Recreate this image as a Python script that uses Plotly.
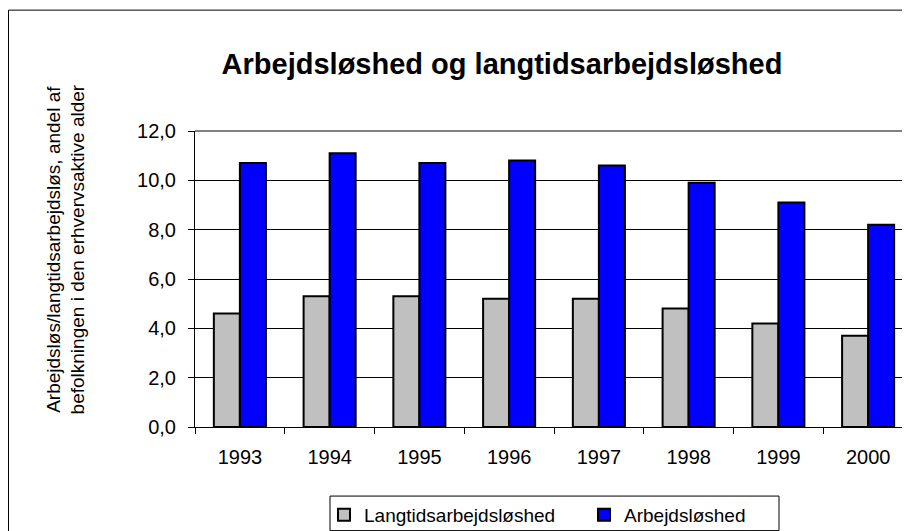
import plotly.graph_objects as go

years = ["1993", "1994", "1995", "1996", "1997", "1998", "1999", "2000"]
langtid = [4.6, 5.3, 5.3, 5.2, 5.2, 4.8, 4.2, 3.7]
ledighed = [10.7, 11.1, 10.7, 10.8, 10.6, 9.9, 9.1, 8.2]

W, H = 910, 531
L, R, T, B = 187, 5, 123, 108
PW, PH = W - L - R, H - T - B


def px_x(p):
    return (p - L) / PW


def px_y(p):
    return (H - B - p) / PH


FONT = "Liberation Sans, Arial, sans-serif"

fig = go.Figure()
fig.add_trace(go.Bar(x=years, y=langtid, name="Langtidsarbejdsløshed",
                     marker=dict(color="#C0C0C0", line=dict(color="black", width=2))))
fig.add_trace(go.Bar(x=years, y=ledighed, name="Arbejdsløshed",
                     marker=dict(color="#0000FF", line=dict(color="black", width=2))))

shapes = [
    # plot area border (top & right)
    dict(type="line", xref="paper", yref="paper", x0=0, x1=1, y0=1, y1=1,
         line=dict(color="#808080", width=2), layer="above"),
    dict(type="line", xref="paper", yref="paper", x0=1, x1=1, y0=0, y1=1,
         line=dict(color="#808080", width=2), layer="above"),
    # legend box
    dict(type="rect", xref="paper", yref="paper",
         x0=px_x(322), x1=px_x(771), y0=px_y(528), y1=px_y(493),
         line=dict(color="black", width=1)),
    # outer frame
    dict(type="rect", xref="paper", yref="paper",
         x0=px_x(0.5), x1=px_x(909.5), y0=px_y(530.5), y1=px_y(0.5),
         line=dict(color="black", width=1)),
]

fig.update_layout(
    width=W, height=H,
    margin=dict(l=L, r=R, t=T, b=B, pad=0),
    paper_bgcolor="white", plot_bgcolor="white",
    font=dict(family=FONT, size=19, color="black"),
    separators=",.",
    barmode="group", bargap=0.42, bargroupgap=0,
    title=dict(text="<b>Arbejdsløshed og langtidsarbejdsløshed</b>",
               x=494 / W, xanchor="center", xref="container",
               y=(H - 56) / H, yanchor="middle", yref="container",
               font=dict(size=29, family=FONT, color="black")),
    xaxis=dict(showgrid=False, showline=True, linecolor="black", linewidth=1,
               ticks="outside", ticklen=6, tickcolor="black", tickson="boundaries",
               ticklabelstandoff=12, tickfont=dict(size=20)),
    yaxis=dict(range=[0, 12], dtick=2, tickformat=".1f",
               showgrid=True, gridcolor="black", gridwidth=1,
               showline=True, linecolor="black", linewidth=1,
               ticks="outside", ticklen=6, tickcolor="black",
               ticklabelstandoff=8, tickfont=dict(size=20), zeroline=False),
    showlegend=True,
    legend=dict(orientation="h", x=px_x(316), xanchor="left",
                y=px_y(512), yanchor="middle", font=dict(size=19),
                bgcolor="rgba(0,0,0,0)", borderwidth=0,
                entrywidth=215, entrywidthmode="pixels", itemclick=False),
    shapes=shapes,
)

fig.add_annotation(
    text="Arbejdsløs/langtidsarbejdsløs, andel af<br>befolkningen i den erhvervsaktive alder",
    xref="paper", yref="paper", x=px_x(58), y=px_y(243),
    xanchor="center", yanchor="middle", textangle=-90, showarrow=False,
    font=dict(size=19, family=FONT, color="black"),
)

fig.write_html("out.html")
